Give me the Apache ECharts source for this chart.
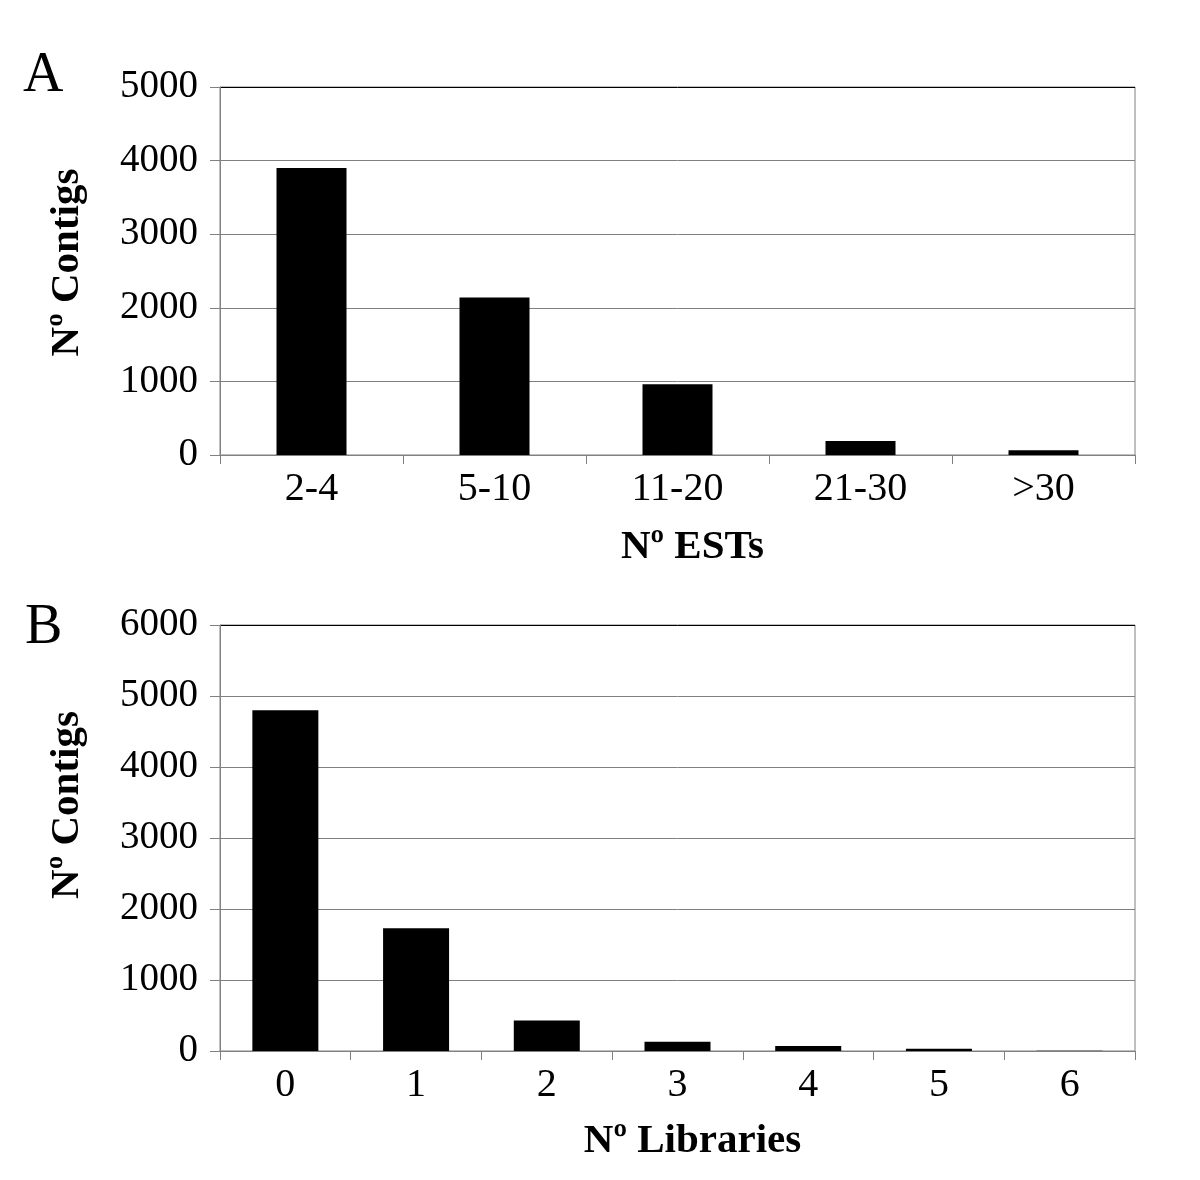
<!DOCTYPE html>
<html>
<head>
<meta charset="utf-8">
<script src="https://cdn.jsdelivr.net/npm/echarts@6/dist/echarts.min.js"></script>
<style>
  html, body { margin: 0; padding: 0; background: #fff; }
  #chart { width: 1200px; height: 1180px; }
</style>
</head>
<body>
<div id="chart"></div>
<script>
// panel A: contigs by number of ESTs
const estCats = ['2-4', '5-10', '11-20', '21-30', '>30'];
const estValues = [3900, 2140, 960, 190, 65];
// panel B: contigs by number of libraries
const libCats = ['0', '1', '2', '3', '4', '5', '6'];
const libValues = [4800, 1730, 430, 130, 70, 30, 5];

const font = '"Liberation Serif", "Times New Roman", serif';
const gridGray = '#808080';

function yAxis(gridIndex, max, shift) {
  // top gridline is drawn black in the original
  var colors = [];
  for (var v = 0; v < max; v += 1000) colors.push(gridGray);
  colors.push('#000');
  return {
    gridIndex: gridIndex,
    type: 'value',
    min: 0,
    max: max,
    interval: 1000,
    name: 'Nº Contigs',
    nameLocation: 'middle',
    nameGap: 132,
    // name sits a bit above the axis middle in the original
    nameTextStyle: { fontFamily: font, fontWeight: 'bold', fontSize: 41, color: '#000', padding: [0, 0, 0, shift] },
    axisLine: { show: true, lineStyle: { color: gridGray } },
    axisTick: { show: true, length: 10, lineStyle: { color: gridGray } },
    axisLabel: { margin: 22, fontFamily: font, fontSize: 39, color: '#000', formatter: function (v) { return String(v); } },
    splitLine: { lineStyle: { color: colors, width: 1 } }
  };
}

function xAxis(gridIndex, cats, name, gap) {
  return {
    gridIndex: gridIndex,
    type: 'category',
    data: cats,
    name: name,
    nameLocation: 'middle',
    nameGap: gap,
    nameTextStyle: { fontFamily: font, fontWeight: 'bold', fontSize: 41, color: '#000', padding: [0, 0, 0, 30] },
    axisLine: { lineStyle: { color: gridGray } },
    axisTick: { show: true, length: 9, lineStyle: { color: gridGray } },
    axisLabel: { margin: 14, fontFamily: font, fontSize: 40, color: '#000' }
  };
}

var myChart = echarts.init(document.getElementById('chart'));
var option = {
  animation: false,
  backgroundColor: '#fff',
  title: [
    { text: 'A', left: 18, top: 43, textStyle: { fontFamily: font, fontWeight: 'normal', fontSize: 56, color: '#000' } },
    { text: 'B', left: 20, top: 595, textStyle: { fontFamily: font, fontWeight: 'normal', fontSize: 56, color: '#000' } }
  ],
  grid: [
    { left: 220, right: 65, top: 87, height: 368, show: true, borderColor: gridGray, borderWidth: 1 },
    { left: 220, right: 65, top: 625, height: 426, show: true, borderColor: gridGray, borderWidth: 1 }
  ],
  xAxis: [
    xAxis(0, estCats, 'Nº ESTs', 72),
    xAxis(1, libCats, 'Nº Libraries', 70)
  ],
  yAxis: [
    yAxis(0, 5000, 17),
    yAxis(1, 6000, 66)
  ],
  series: [
    {
      type: 'bar',
      xAxisIndex: 0,
      yAxisIndex: 0,
      barWidth: 70,
      itemStyle: { color: '#000' },
      data: estValues
    },
    {
      type: 'bar',
      xAxisIndex: 1,
      yAxisIndex: 1,
      barWidth: 66,
      itemStyle: { color: '#000' },
      data: libValues
    }
  ]
};
option && myChart.setOption(option);
</script>
</body>
</html>
